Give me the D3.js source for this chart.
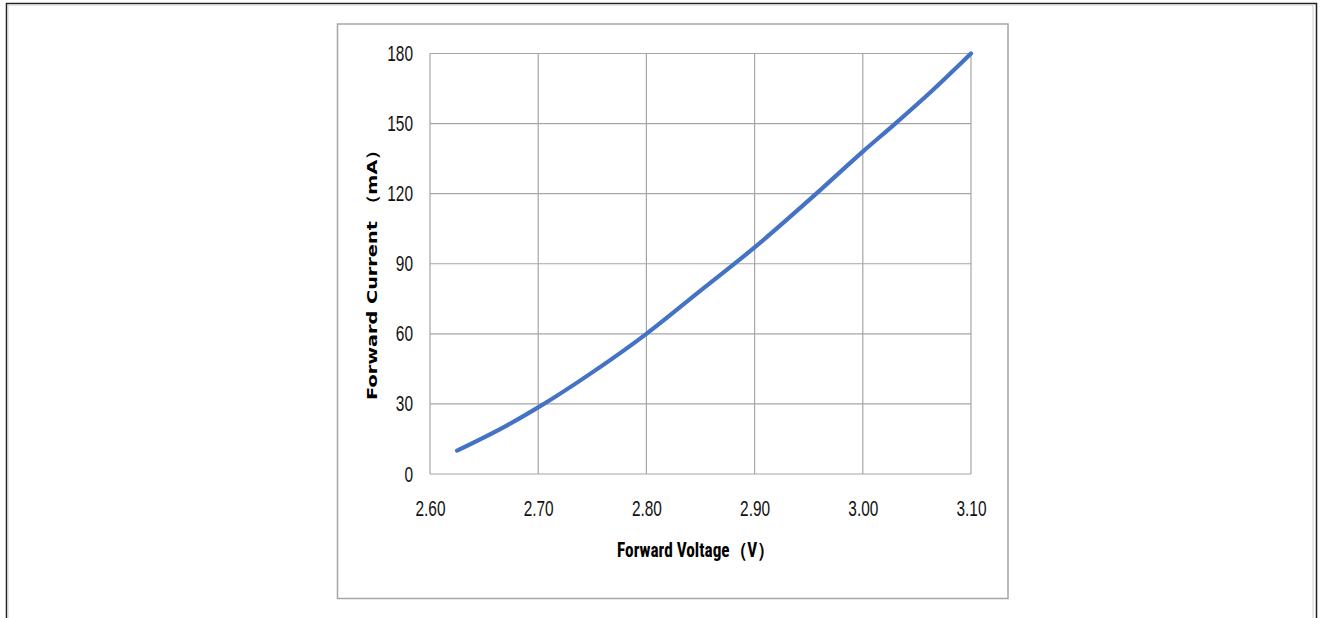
<!DOCTYPE html>
<html>
<head>
<meta charset="utf-8">
<script src="https://cdn.jsdelivr.net/npm/d3@7"></script>
<style>
  html, body { margin: 0; padding: 0; background: #fff; }
  svg { display: block; }
</style>
</head>
<body>
<svg id="chart" width="1320" height="618"></svg>
<script>
// ---- data ----
const voltage = [2.625, 2.67, 2.70, 2.75, 2.80, 2.85, 2.90, 2.957, 3.00, 3.03, 3.065, 3.10];
const current = [10, 20.5, 28.5, 43.5, 60, 78.5, 97, 120, 138, 150, 164.5, 180];
const xTicks = [2.60, 2.70, 2.80, 2.90, 3.00, 3.10];
const yTicks = [0, 30, 60, 90, 120, 150, 180];
const xTitle = "Forward Voltage（V）";
const yTitle = "Forward Current （mA）";

// ---- layout ----
const svg = d3.select("#chart");
const pLeft = 430, pRight = 971, pTop = 53.5, pBottom = 474;
const x = d3.scaleLinear().domain([2.6, 3.1]).range([pLeft, pRight]);
const y = d3.scaleLinear().domain([0, 180]).range([pBottom, pTop]);

const tickFont = "'Liberation Sans', Arial, sans-serif";
const narrow = "'Liberation Sans Narrow', 'Arial Narrow', 'Roboto Condensed', sans-serif";

// outer frames
svg.append("rect").attr("x", 6.5).attr("y", 3.5).attr("width", 1310).attr("height", 700)
  .attr("fill", "none").attr("stroke", "#222").attr("stroke-width", 1.5);
svg.append("rect").attr("x", 8).attr("y", 5).attr("width", 1305).attr("height", 700)
  .attr("fill", "none").attr("stroke", "#d0d0d0").attr("stroke-width", 1);

// chart box
svg.append("rect").attr("x", 337.5).attr("y", 24).attr("width", 670.5).attr("height", 574.5)
  .attr("fill", "#fff").attr("stroke", "#a6a6a6").attr("stroke-width", 1.5);

// grid
const grid = svg.append("g").attr("stroke", "#a6a6a6").attr("stroke-width", 1.2);
grid.selectAll("line.v").data(xTicks).join("line").attr("class", "v")
  .attr("x1", d => x(d)).attr("x2", d => x(d)).attr("y1", pTop).attr("y2", pBottom);
grid.selectAll("line.h").data(yTicks).join("line").attr("class", "h")
  .attr("x1", pLeft).attr("x2", pRight).attr("y1", d => y(d)).attr("y2", d => y(d));

// axes (labels)
const xAxis = svg.append("g").attr("transform", `translate(0,${pBottom})`)
  .call(d3.axisBottom(x).tickValues(xTicks).tickFormat(d3.format(".2f")).tickSize(0).tickPadding(26));
const yAxis = svg.append("g").attr("transform", `translate(${pLeft},0)`)
  .call(d3.axisLeft(y).tickValues(yTicks).tickSize(0).tickPadding(17));
[xAxis, yAxis].forEach(a => {
  a.select(".domain").remove();
  a.selectAll("text").attr("font-family", tickFont).attr("font-weight", "normal")
    .attr("font-size", 22).attr("fill", "#111")
    .each(function() {
      const L = this.getComputedTextLength();
      d3.select(this).attr("textLength", L * 0.70).attr("lengthAdjust", "spacingAndGlyphs");
    });
});

// line
const pts = voltage.map((v, i) => [v, current[i]]);
svg.append("path").datum(pts)
  .attr("fill", "none").attr("stroke", "#4472C4").attr("stroke-width", 4.2)
  .attr("stroke-linecap", "round").attr("stroke-linejoin", "round")
  .attr("d", d3.line().x(d => x(d[0])).y(d => y(d[1])).curve(d3.curveMonotoneX));

// titles
svg.append("text").attr("x", 696).attr("y", 557).attr("text-anchor", "middle")
  .attr("font-family", narrow).attr("font-weight", "bold").attr("font-size", 19.5)
  .attr("fill", "#000").attr("textLength", 158).attr("lengthAdjust", "spacingAndGlyphs")
  .text(xTitle);
svg.append("text").attr("transform", "translate(377,270) rotate(-90)").attr("text-anchor", "middle")
  .attr("font-family", "'DejaVu Sans', Verdana, sans-serif").attr("font-weight", "bold").attr("font-size", 14.7)
  .attr("fill", "#000").attr("textLength", 260).attr("lengthAdjust", "spacingAndGlyphs")
  .text(yTitle);
</script>
</body>
</html>
